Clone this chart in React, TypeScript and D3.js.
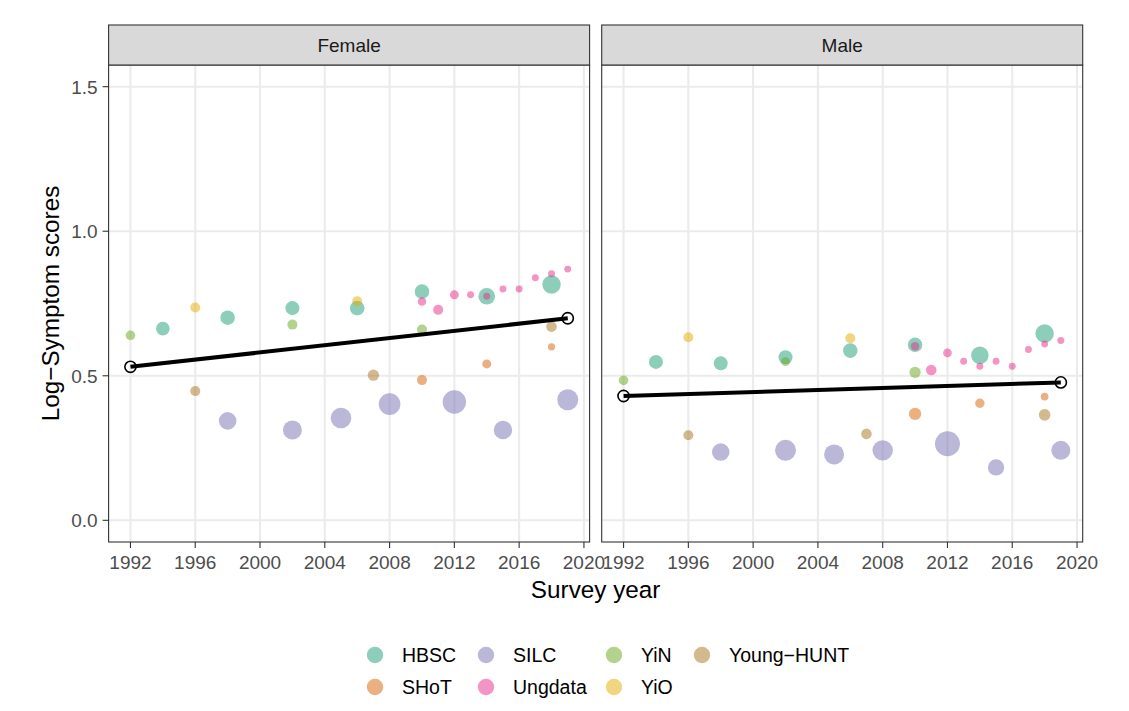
import React from "react";
import * as d3 from "d3";

// ---------- data ----------
const surveys = ["HBSC", "SHoT", "SILC", "Ungdata", "YiN", "YiO", "Young-HUNT"];
const surveyColors = ["#1B9E77", "#D95F02", "#7570B3", "#E7298A", "#66A61E", "#E6AB02", "#A6761D"];
const sexes = ["Female", "Male"];
const xTicks = [1992, 1996, 2000, 2004, 2008, 2012, 2016, 2020];
const yTicks = [0, 0.5, 1.0, 1.5];

const hbscYears = [1994, 1998, 2002, 2006, 2010, 2014, 2018];
const hbscFemale = [0.663, 0.701, 0.734, 0.734, 0.791, 0.775, 0.816];
const hbscMale = [0.548, 0.543, 0.564, 0.587, 0.607, 0.571, 0.646];
const hbscFemaleN = [46, 52, 49, 53, 53, 69, 85];
const hbscMaleN = [49, 49, 49, 53, 53, 76, 85];

const shotYears = [2010, 2014, 2018];
const shotFemale = [0.485, 0.541, 0.6];
const shotMale = [0.368, 0.405, 0.428];
const shotFemaleN = [25, 20, 13];
const shotMaleN = [38, 22, 15];

const silcYears = [1998, 2002, 2005, 2008, 2012, 2015, 2019];
const silcFemale = [0.344, 0.3125, 0.354, 0.402, 0.409, 0.3125, 0.417];
const silcMale = [0.236, 0.242, 0.228, 0.242, 0.265, 0.183, 0.242];
const silcFemaleN = [77, 90, 106, 117, 137, 85, 110];
const silcMaleN = [77, 110, 100, 104, 156, 67, 90];

const ungdataYears = [2010, 2011, 2012, 2013, 2014, 2015, 2016, 2017, 2018, 2019];
const ungdataFemale = [0.757, 0.728, 0.78, 0.78, 0.775, 0.8, 0.8, 0.839, 0.853, 0.869];
const ungdataMale = [0.602, 0.52, 0.579, 0.55, 0.533, 0.55, 0.533, 0.591, 0.61, 0.622];
const ungdataFemaleN = [18, 25, 20, 12, 12, 12, 12, 12, 12, 12];
const ungdataMaleN = [18, 28, 19, 12, 12, 12, 12, 12, 12, 12];

const yinYears = [1992, 2002, 2010];
const yinFemale = [0.64, 0.677, 0.66];
const yinMale = [0.484, 0.549, 0.512];
const yinFemaleN = [23, 25, 25];
const yinMaleN = [23, 20, 32];

const yioYears = [1996, 2006];
const yioFemale = [0.736, 0.758];
const yioMale = [0.633, 0.63];
const yioFemaleN = [25, 25];
const yioMaleN = [25, 25];

const huntYears = [1996, 2007, 2018];
const huntFemale = [0.447, 0.502, 0.67];
const huntMale = [0.294, 0.299, 0.365];
const huntFemaleN = [25, 32, 28];
const huntMaleN = [25, 28, 34];

const trendYears = [1992, 2019];
const trendFemale = [0.531, 0.699];
const trendMale = [0.43, 0.477];

// ---------- assembly ----------
type Pt = { survey: string; year: number; value: number; n: number };
const bySurvey: [string, number[], number[], number[], number[], number[]][] = [
  ["HBSC", hbscYears, hbscFemale, hbscMale, hbscFemaleN, hbscMaleN],
  ["SHoT", shotYears, shotFemale, shotMale, shotFemaleN, shotMaleN],
  ["SILC", silcYears, silcFemale, silcMale, silcFemaleN, silcMaleN],
  ["Ungdata", ungdataYears, ungdataFemale, ungdataMale, ungdataFemaleN, ungdataMaleN],
  ["YiN", yinYears, yinFemale, yinMale, yinFemaleN, yinMaleN],
  ["YiO", yioYears, yioFemale, yioMale, yioFemaleN, yioMaleN],
  ["Young-HUNT", huntYears, huntFemale, huntMale, huntFemaleN, huntMaleN],
];
function pointsFor(sexIdx: number): Pt[] {
  const out: Pt[] = [];
  bySurvey.forEach(([s, yrs, f, m, fn, mn]) => {
    yrs.forEach((yr, i) => {
      out.push({
        survey: s,
        year: yr,
        value: sexIdx === 0 ? f[i] : m[i],
        n: sexIdx === 0 ? fn[i] : mn[i],
      });
    });
  });
  return out;
}

const W = 1129;
const H = 711;
const FONT = "'Liberation Sans', Arial, Helvetica, sans-serif";

export default function App() {
  const panelW = 481;
  const panelX0 = [108.6, 601.7];
  const top = 65;
  const bottom = 542;
  const stripTop = 25;

  const color = d3.scaleOrdinal<string, string>().domain(surveys).range(surveyColors);
  const rScale = d3.scaleSqrt().domain([0, 160]).range([0, 12.65]);
  const y = d3.scaleLinear().domain([-0.075, 1.575]).range([bottom, top]);

  const fmtY = (v: number) => d3.format(".1f")(v);

  return (
    <svg
      width={W}
      height={H}
      style={{ position: "absolute", left: 0, top: 0, background: "#fff" }}
      fontFamily={FONT}
    >
      <rect x={0} y={0} width={W} height={H} fill="#fff" />
      {sexes.map((sex, si) => {
        const x0 = panelX0[si];
        const x = d3.scaleLinear().domain([1990.65, 2020.35]).range([x0, x0 + panelW]);
        const pts = pointsFor(si);
        const trend = si === 0 ? trendFemale : trendMale;
        const line = d3
          .line<number>()
          .x((_, i) => x(trendYears[i]))
          .y((d) => y(d));
        return (
          <g key={sex}>
            <rect x={x0} y={top} width={panelW} height={bottom - top} fill="#fff" />
            {yTicks.map((t) => (
              <line key={"gy" + t} x1={x0} x2={x0 + panelW} y1={y(t)} y2={y(t)} stroke="#EBEBEB" strokeWidth={2.1} />
            ))}
            {xTicks.map((t) => (
              <line key={"gx" + t} x1={x(t)} x2={x(t)} y1={top} y2={bottom} stroke="#EBEBEB" strokeWidth={2.1} />
            ))}
            {pts.map((p, i) => (
              <circle
                key={i}
                cx={x(p.year)}
                cy={y(p.value)}
                r={rScale(p.n)}
                fill={color(p.survey)}
                fillOpacity={0.5}
              />
            ))}
            <path d={line(trend) || ""} fill="none" stroke="#000" strokeWidth={4} />
            {trend.map((v, i) => (
              <circle key={"tc" + i} cx={x(trendYears[i])} cy={y(v)} r={5.6} fill="none" stroke="#000" strokeWidth={1.6} />
            ))}
            <rect x={x0} y={top} width={panelW} height={bottom - top} fill="none" stroke="#333333" strokeWidth={1.1} />
            <rect x={x0} y={stripTop} width={panelW} height={top - stripTop} fill="#D9D9D9" stroke="#333333" strokeWidth={1.1} />
            <text x={x0 + panelW / 2} y={(stripTop + top) / 2} dy="0.36em" textAnchor="middle" fontSize={19} fill="#1A1A1A">
              {sex}
            </text>
            {xTicks.map((t) => (
              <g key={"xt" + t}>
                <line x1={x(t)} x2={x(t)} y1={bottom} y2={bottom + 6} stroke="#333333" strokeWidth={1.1} />
                <text x={x(t)} y={bottom + 20} dy="0.36em" textAnchor="middle" fontSize={19} fill="#4D4D4D">
                  {t}
                </text>
              </g>
            ))}
            {si === 0 &&
              yTicks.map((t) => (
                <g key={"yt" + t}>
                  <line x1={x0 - 6} x2={x0} y1={y(t)} y2={y(t)} stroke="#333333" strokeWidth={1.1} />
                  <text x={x0 - 11} y={y(t)} dy="0.36em" textAnchor="end" fontSize={19} fill="#4D4D4D">
                    {fmtY(t)}
                  </text>
                </g>
              ))}
          </g>
        );
      })}
      <text x={(panelX0[0] + panelX0[1] + panelW) / 2} y={589} dy="0.36em" textAnchor="middle" fontSize={24.3} fill="#000">
        Survey year
      </text>
      <text
        transform={`translate(50,${(top + bottom) / 2}) rotate(-90)`}
        textAnchor="middle"
        dy="0.36em"
        fontSize={24.3}
        fill="#000"
      >
        Log−Symptom scores
      </text>
      {surveys.map((s, i) => {
        const col = Math.floor(i / 2);
        const row = i % 2;
        const colX = [375, 486, 614, 702];
        const cx = colX[col];
        const cy = 655 + row * 32;
        return (
          <g key={"lg" + s}>
            <circle cx={cx} cy={cy} r={8.2} fill={color(s)} fillOpacity={0.5} />
            <text x={cx + 27} y={cy} dy="0.36em" fontSize={19.5} fill="#000">
              {s === "Young-HUNT" ? "Young−HUNT" : s}
            </text>
          </g>
        );
      })}
    </svg>
  );
}
